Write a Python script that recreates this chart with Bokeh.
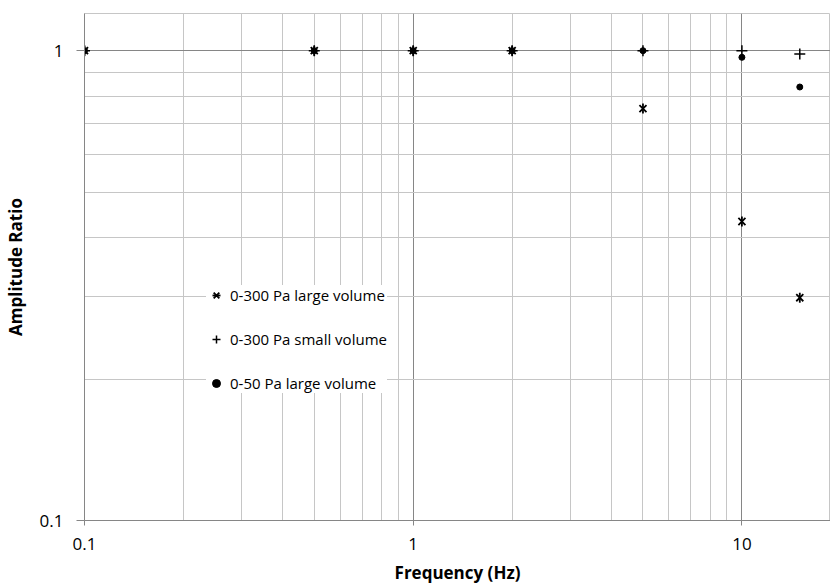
import math
from bokeh.plotting import figure
from bokeh.models import (FixedTicker, Range1d, Legend, LegendItem, ColumnDataSource,
                          CustomJSTickFormatter)
from bokeh.embed import file_html
from bokeh.resources import INLINE

# ---- data ----
freq = [0.1, 0.5, 1, 2, 5, 10, 15]
large_300 = [1.0, 1.0, 1.0, 1.0, 0.753, 0.433, 0.298]
small_300 = [1.0, 1.0, 1.0, 1.0, 1.0, 1.0, 0.984]
large_50 = [1.0, 1.0, 1.0, 1.0, 1.0, 0.968, 0.837]
series_labels = ["0-300 Pa large volume", "0-300 Pa small volume", "0-50 Pa large volume"]

x_major = [0.1, 1, 10]
x_minor = [0.2, 0.3, 0.4, 0.5, 0.6, 0.7, 0.8, 0.9, 2, 3, 4, 5, 6, 7, 8, 9]
y_major = [0.1, 1]
y_minor = [0.2, 0.3, 0.4, 0.5, 0.6, 0.7, 0.8, 0.9]
x_limits = (0.1, 18.6)
y_limits = (0.1, 1.2)

FONT = "Open Sans"
MAJOR = "#868686"
MINOR = "#c6c6c6"

p = figure(width=830, height=586, x_axis_type="log", y_axis_type="log",
           x_range=Range1d(*x_limits), y_range=Range1d(*y_limits),
           output_backend="svg", toolbar_location=None,
           min_border_left=84, min_border_right=0, min_border_top=13, min_border_bottom=65)
p.background_fill_color = "white"
p.border_fill_color = "white"
p.outline_line_color = MINOR

xt = FixedTicker(ticks=x_major, minor_ticks=x_minor)
yt = FixedTicker(ticks=y_major, minor_ticks=y_minor)
fmt = CustomJSTickFormatter(code="return String(Math.round(tick * 1000) / 1000);")
p.xaxis.ticker = xt
p.yaxis.ticker = yt
p.xaxis.formatter = fmt
p.yaxis.formatter = fmt
p.xgrid.ticker = xt
p.ygrid.ticker = yt

for g in (p.xgrid, p.ygrid):
    g.grid_line_color = MAJOR
    g.grid_line_width = 1
    g.minor_grid_line_color = MINOR
    g.minor_grid_line_width = 1

for ax in (p.xaxis, p.yaxis):
    ax.axis_line_color = MAJOR
    ax.major_tick_line_color = MAJOR
    ax.major_tick_in = 0
    ax.minor_tick_in = 0
    ax.minor_tick_out = 0
    ax.major_label_text_font = FONT
    ax.major_label_text_font_size = "17px"
    ax.major_label_text_color = "black"
    ax.axis_label_text_font = FONT
    ax.axis_label_text_font_size = "17px"
    ax.axis_label_text_font_style = "bold"
    ax.axis_label_text_color = "black"

p.xaxis.major_tick_out = 5
p.xaxis.major_label_standoff = 12
p.xaxis.axis_label_standoff = 8
p.yaxis.major_tick_out = 8
p.yaxis.major_label_standoff = 13
p.yaxis.axis_label_standoff = 10
p.xaxis.axis_label = "Frequency (Hz)"
p.yaxis.axis_label = "Amplitude Ratio"

src = ColumnDataSource(dict(f=freq, a=large_300, b=small_300, c=large_50))

r1a = p.scatter("f", "a", source=src, marker="x", size=10, line_color="black", line_width=1.8)
r1b = p.scatter("f", "a", source=src, marker="dash", angle=math.pi / 2, size=10,
                line_color="black", line_width=1.8)
r2 = p.scatter("f", "b", source=src, marker="cross", size=11, line_color="black", line_width=1.5)
r3 = p.scatter("f", "c", source=src, marker="circle", size=6, fill_color="black", line_color="black")

legend = Legend(items=[LegendItem(label=series_labels[0], renderers=[r1a, r1b]),
                       LegendItem(label=series_labels[1], renderers=[r2]),
                       LegendItem(label=series_labels[2], renderers=[r3])],
                location=(122, 127))
legend.background_fill_color = "white"
legend.background_fill_alpha = 1
legend.border_line_color = None
legend.padding = 15
legend.spacing = 24
legend.margin = 0
legend.glyph_height = 20
legend.glyph_width = 20
legend.label_height = 20
legend.label_standoff = 4
legend.label_text_font = FONT
legend.label_text_font_size = "15px"
legend.label_text_color = "black"
p.add_layout(legend)

open("out.html", "w").write(file_html(p, INLINE))
